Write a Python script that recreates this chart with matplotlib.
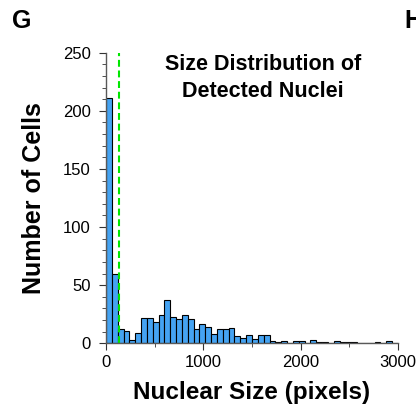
import matplotlib
matplotlib.use("Agg")
import matplotlib.pyplot as plt
import numpy as np
from matplotlib.ticker import MultipleLocator

# histogram of nuclear sizes, 60-pixel bins from 0 to 3000
bin_width = 60
counts = [211, 60, 12, 11, 3, 9, 22, 22, 18, 24,
          37, 23, 21, 24, 21, 12, 17, 14, 8, 12,
          12, 13, 6, 5, 7, 4, 7, 7, 2, 1,
          2, 0, 2, 2, 0, 3, 1, 1, 0, 2,
          1, 1, 1, 0, 0, 0, 1, 0, 2, 0]
threshold = 130

plt.rcParams["font.family"] = ["Liberation Sans", "DejaVu Sans"]

fig = plt.figure(figsize=(4.16, 4.12), dpi=100)
ax = fig.add_axes([0.2548, 0.1667, 0.7019, 0.7053])

bin_starts = np.arange(len(counts)) * bin_width
ax.bar(bin_starts, counts, width=bin_width, align="edge",
       color="#45a3f2", edgecolor="black", linewidth=0.8)
ax.axvline(threshold, color="#00e600", linestyle=(0, (3.3, 1.8)), linewidth=1.5)

ax.set_xlim(0, 3000)
ax.set_ylim(0, 250)
ax.xaxis.set_major_locator(MultipleLocator(1000))
ax.xaxis.set_minor_locator(MultipleLocator(500))
ax.yaxis.set_major_locator(MultipleLocator(50))
ax.yaxis.set_minor_locator(MultipleLocator(10))

for side in ("top", "right"):
    ax.spines[side].set_visible(False)
for side in ("left", "bottom"):
    ax.spines[side].set_color("0.35")
    ax.spines[side].set_linewidth(1.0)
ax.tick_params(which="both", direction="out", color="0.2", labelsize=12)
ax.tick_params(which="major", length=5)
ax.tick_params(which="minor", length=3)
ax.tick_params(axis="y", pad=6)

ax.set_xlabel("Nuclear Size (pixels)", fontsize=17.5, fontweight="bold", labelpad=8)
ax.set_ylabel("Number of Cells", fontsize=18, fontweight="bold")
ax.yaxis.set_label_coords(-0.205, 0.5)

fig.text(0.632, 0.868, "Size Distribution of\nDetected Nuclei", ha="center",
         va="top", fontsize=15.5, fontweight="bold", linespacing=1.35)
fig.text(0.029, 0.95, "G", fontsize=18, fontweight="bold", va="center")
fig.text(0.972, 0.95, "H", fontsize=18, fontweight="bold", va="center")

fig.savefig("out.png", dpi=100)
plt.close(fig)
